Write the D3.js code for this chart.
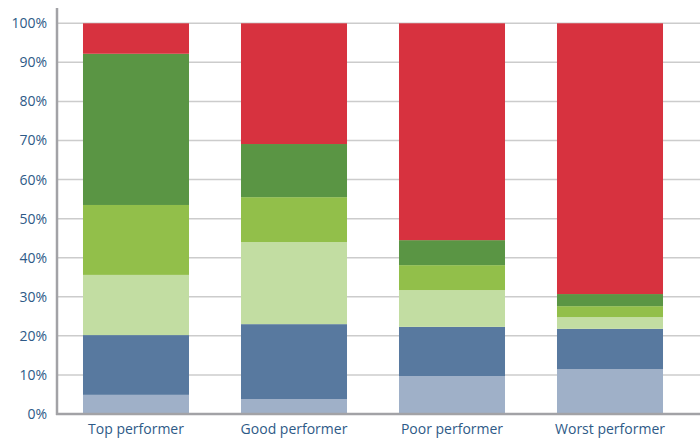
<!DOCTYPE html>
<html>
<head>
<meta charset="utf-8">
<script src="https://cdn.jsdelivr.net/npm/d3@7"></script>
<style>
  html, body { margin: 0; padding: 0; background: #ffffff; }
  svg { display: block; }
  text { font-family: "Open Sans", "Noto Sans", sans-serif; }
</style>
</head>
<body>
<svg id="chart" width="700" height="441"></svg>
<script>
// Performer groups along the x axis
const categories = ["Top performer", "Good performer", "Poor performer", "Worst performer"];

// Stack segments from bottom to top (share of each group, in %)
const seriesKeys = ["s1", "s2", "s3", "s4", "s5", "s6"];
const s1 = [4.9, 3.8, 9.7, 11.5];
const s2 = [15.3, 19.2, 12.6, 10.3];
const s3 = [15.4, 21.0, 9.4, 3.0];
const s4 = [17.9, 11.5, 6.4, 2.8];
const s5 = [38.7, 13.6, 6.4, 3.1];
const s6 = [7.8, 30.9, 55.5, 69.3];
const seriesColors = ["#9fb0c8", "#58799f", "#c2dda2", "#92bf4a", "#5a9544", "#d7323f"];

const yTicks = [0, 10, 20, 30, 40, 50, 60, 70, 80, 90, 100];

const svg = d3.select("#chart");
const plotLeft = 57, plotRight = 689, plotTop = 23.3, plotBottom = 414;

const rows = categories.map((c, i) => ({
  category: c,
  s1: s1[i], s2: s2[i], s3: s3[i], s4: s4[i], s5: s5[i], s6: s6[i]
}));

const x = d3.scaleBand()
  .domain(categories)
  .range([plotLeft, plotRight])
  .paddingInner(0.329)
  .paddingOuter(0.1645);

const y = d3.scaleLinear().domain([0, 100]).range([plotBottom, plotTop]);

// Horizontal gridlines
svg.append("g")
  .selectAll("line")
  .data(yTicks.filter(t => t > 0))
  .join("line")
  .attr("x1", plotLeft)
  .attr("x2", 700)
  .attr("y1", d => y(d))
  .attr("y2", d => y(d))
  .attr("stroke", "#cccccc")
  .attr("stroke-width", 1.5);

// Stacked bars
const stack = d3.stack().keys(seriesKeys)(rows);
svg.append("g")
  .selectAll("g")
  .data(stack)
  .join("g")
  .attr("fill", (d, i) => seriesColors[i])
  .selectAll("rect")
  .data(d => d)
  .join("rect")
  .attr("x", d => x(d.data.category))
  .attr("width", x.bandwidth())
  .attr("y", d => y(d[1]))
  .attr("height", d => y(d[0]) - y(d[1]));

// Axis lines
svg.append("line")
  .attr("x1", plotLeft).attr("x2", plotLeft)
  .attr("y1", 8).attr("y2", plotBottom + 1)
  .attr("stroke", "#a2a2a6").attr("stroke-width", 2.5);
svg.append("line")
  .attr("x1", plotLeft - 1).attr("x2", 700)
  .attr("y1", plotBottom).attr("y2", plotBottom)
  .attr("stroke", "#a2a2a6").attr("stroke-width", 2.5);

// Y tick labels
const yAxis = d3.axisLeft(y)
  .tickValues(yTicks)
  .tickFormat(d => d + "%")
  .tickSize(0)
  .tickPadding(10);
const gy = svg.append("g").attr("transform", `translate(${plotLeft},0)`).call(yAxis);
gy.select(".domain").remove();
gy.selectAll("text")
  .attr("fill", "#2e5a87")
  .style("font-size", "14px")
  .style("font-family", "'Open Sans', 'Noto Sans', sans-serif");

// Category labels
const xAxis = d3.axisBottom(x).tickSize(0).tickPadding(10);
const gx = svg.append("g").attr("transform", `translate(0,${plotBottom})`).call(xAxis);
gx.select(".domain").remove();
gx.selectAll("text")
  .attr("fill", "#2e5a87")
  .style("font-size", "14px")
  .style("font-family", "'Open Sans', 'Noto Sans', sans-serif");
</script>
</body>
</html>
